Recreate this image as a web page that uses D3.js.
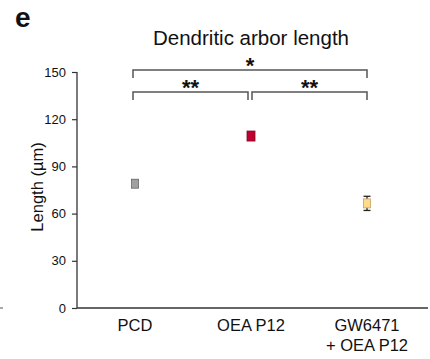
<!DOCTYPE html>
<html>
<head>
<meta charset="utf-8">
<script src="https://cdn.jsdelivr.net/npm/d3@7"></script>
<style>
  body { margin: 0; background: #fff; }
  text { font-family: Arial, "Liberation Sans", sans-serif; fill: #111; }
</style>
</head>
<body>
<svg id="chart" width="430" height="359"></svg>
<script>
// groups and their means / SEM
var groups = ["PCD", "OEA P12", "GW6471\n+ OEA P12"];
var means = [79, 109.3, 66.5];
var sems = [2.2, 1.8, 4.5];
var colors = ["#a0a0a0", "#c00030", "#ffd98c"];
var strokes = ["#6a6a6a", "#7a0a20", "#caa060"];
var yTicks = [0, 30, 60, 90, 120, 150];

// significance brackets: from group, to group, level (0 = lower), label
var sigFrom = [0, 0, 1];
var sigTo = [1, 2, 2];
var sigLevel = [0, 1, 0];
var sigLabel = ["**", "*", "**"];

var svg = d3.select("#chart");
var x0 = 77, x1 = 428, yTop = 72, yBot = 308;

var x = d3.scaleBand().domain(groups).range([x0, 425]);
var y = d3.scaleLinear().domain([0, 150]).range([yBot, yTop]);
var cx = function(g) { return x(g) + x.bandwidth() / 2; };

// panel letter + title
svg.append("text").attr("x", 15).attr("y", 27)
  .style("font-size", "28px").style("font-weight", "bold").text("e");
svg.append("text").attr("x", 251).attr("y", 45)
  .attr("text-anchor", "middle").style("font-size", "20.5px")
  .text("Dendritic arbor length");

// y axis
var yAxis = svg.append("g").attr("transform", "translate(" + x0 + ",0)")
  .call(d3.axisLeft(y).tickValues(yTicks).tickSize(5).tickPadding(6));
yAxis.select(".domain").attr("stroke", "#333").attr("stroke-width", 1.3)
  .attr("d", "M0," + yTop + "V" + yBot);
yAxis.selectAll(".tick line").attr("stroke", "#333").attr("stroke-width", 1.2);
yAxis.selectAll(".tick text").style("font-size", "13px")
  .style("font-family", "Arial, 'Liberation Sans', sans-serif").attr("fill", "#222");

svg.append("text")
  .attr("transform", "translate(43," + ((yTop + yBot) / 2 - 3) + ") rotate(-90)")
  .attr("text-anchor", "middle").style("font-size", "16.5px")
  .text("Length (µm)");

// x axis
var xAxis = svg.append("g").attr("transform", "translate(0," + yBot + ")")
  .call(d3.axisBottom(x).tickSize(0).tickFormat(""));
xAxis.select(".domain").attr("stroke", "#333").attr("stroke-width", 1.3)
  .attr("d", "M" + x0 + ",0H" + x1);

// stray dash at left edge
svg.append("line").attr("x1", 0).attr("x2", 3)
  .attr("y1", y(0)).attr("y2", y(0)).attr("stroke", "#555");

groups.forEach(function(g) {
  var lines = g.split("\n");
  var t = svg.append("text").attr("text-anchor", "middle")
    .style("font-size", "16.5px");
  lines.forEach(function(l, i) {
    t.append("tspan").attr("x", cx(g)).attr("y", 331 + i * 20).text(l);
  });
});

// error bars
var err = svg.append("g");
groups.forEach(function(g, i) {
  var c = cx(g), lo = y(means[i] - sems[i]), hi = y(means[i] + sems[i]);
  err.append("line").attr("x1", c).attr("x2", c).attr("y1", lo).attr("y2", hi)
    .attr("stroke", "#222").attr("stroke-width", 1.3);
  [lo, hi].forEach(function(v) {
    err.append("line").attr("x1", c - 3.5).attr("x2", c + 3.5)
      .attr("y1", v).attr("y2", v).attr("stroke", "#222").attr("stroke-width", 1.3);
  });
});

// mean markers
var markW = [7, 8, 7], markH = [9, 10, 9];
svg.selectAll("rect.mean").data(groups).enter().append("rect")
  .attr("class", "mean")
  .attr("x", function(g, i) { return cx(g) - markW[i] / 2; })
  .attr("y", function(g, i) { return y(means[i]) - markH[i] / 2; })
  .attr("width", function(g, i) { return markW[i]; })
  .attr("height", function(g, i) { return markH[i]; })
  .attr("fill", function(g, i) { return colors[i]; })
  .attr("stroke", function(g, i) { return strokes[i]; })
  .attr("stroke-width", 0.8);

// significance brackets
var levelY = [92, 70];
var offA = [-2, -2, 1], offB = [-3, 0, 0];
sigFrom.forEach(function(f, i) {
  var a = cx(groups[f]) + offA[i], b = cx(groups[sigTo[i]]) + offB[i];
  var yy = levelY[sigLevel[i]];
  svg.append("path")
    .attr("d", "M" + a + "," + (yy + 8) + "V" + yy + "H" + b + "V" + (yy + 8))
    .attr("fill", "none").attr("stroke", "#555").attr("stroke-width", 1.5);
  svg.append("text").attr("x", (a + b) / 2).attr("y", yy + 3)
    .attr("text-anchor", "middle").style("font-size", "22px")
    .style("font-weight", "bold").text(sigLabel[i]);
});
</script>
</body>
</html>
